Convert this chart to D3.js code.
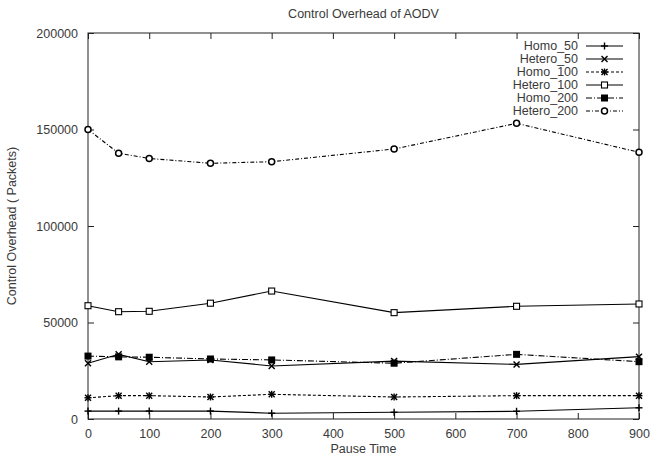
<!DOCTYPE html>
<html>
<head>
<meta charset="utf-8">
<script src="https://cdn.jsdelivr.net/npm/d3@7"></script>
<style>
  body { margin: 0; background: #fff; }
  text { font-family: "Liberation Sans", Arial, sans-serif; fill: #3a3a3a; }
</style>
</head>
<body>
<script>
'use strict';

var width = 650;
var height = 457;

// data
var pauseTimes = [0, 50, 100, 200, 300, 500, 700, 900];
var homo50 = [4100, 4100, 4100, 4100, 3000, 3500, 4000, 5800];
var hetero50 = [28900, 33500, 29700, 30600, 27500, 30000, 28300, 32300];
var homo100 = [11000, 12100, 12100, 11400, 12800, 11400, 12100, 12100];
var hetero100 = [58700, 55600, 55800, 60000, 66300, 55100, 58400, 59600];
var homo200 = [32600, 32200, 32000, 31100, 30600, 28900, 33500, 29700];
var hetero200 = [150000, 137700, 135000, 132500, 133300, 139900, 153200, 138200];
var xTicks = [0, 100, 200, 300, 400, 500, 600, 700, 800, 900];
var yTicks = [0, 50000, 100000, 150000, 200000];

var series = [
  { name: 'Homo_50', values: homo50, dash: null, marker: 'plus' },
  { name: 'Hetero_50', values: hetero50, dash: null, marker: 'cross' },
  { name: 'Homo_100', values: homo100, dash: '3,2', marker: 'star' },
  { name: 'Hetero_100', values: hetero100, dash: null, marker: 'square' },
  { name: 'Homo_200', values: homo200, dash: '6,2,1,2', marker: 'fsquare' },
  { name: 'Hetero_200', values: hetero200, dash: '4,2,1,2', marker: 'circle' }
];

var margin = { top: 33, right: 11, bottom: 38, left: 88 };
var w = width - margin.left - margin.right;
var h = height - margin.top - margin.bottom;
var fs = '12.5px';

var svg = d3.select('body').append('svg').attr('width', width).attr('height', height);

var x = d3.scaleLinear().domain([0, 900]).range([0, w]);
var y = d3.scaleLinear().domain([0, 200000]).range([h, 0]);

var g = svg.append('g').attr('transform', 'translate(' + margin.left + ',' + margin.top + ')');

// title and axis labels
svg.append('text').attr('x', margin.left + w / 2).attr('y', 18).attr('text-anchor', 'middle')
  .style('font-size', fs).text('Control Overhead of AODV');
svg.append('text').attr('x', margin.left + w / 2).attr('y', 453).attr('text-anchor', 'middle')
  .style('font-size', fs).text('Pause Time');
svg.append('text').attr('transform', 'translate(16,' + (margin.top + h / 2) + ') rotate(-90)')
  .attr('text-anchor', 'middle').style('font-size', fs).text('Control Overhead ( Packets)');

// gnuplot style inward ticks on all four sides
function styleAxis(sel) {
  sel.select('.domain').remove();
  sel.selectAll('line').attr('stroke', '#222');
  sel.selectAll('text').style('font-size', fs).attr('fill', '#3a3a3a');
}

g.append('g').attr('transform', 'translate(0,' + h + ')')
  .call(d3.axisBottom(x).tickValues(xTicks).tickSize(-6).tickPadding(10).tickFormat(d3.format('d')))
  .call(styleAxis);
g.append('g')
  .call(d3.axisTop(x).tickValues(xTicks).tickSize(-6).tickFormat(''))
  .call(styleAxis);
g.append('g')
  .call(d3.axisLeft(y).tickValues(yTicks).tickSize(-6).tickPadding(10).tickFormat(d3.format('d')))
  .call(styleAxis);
g.append('g').attr('transform', 'translate(' + w + ',0)')
  .call(d3.axisRight(y).tickValues(yTicks).tickSize(-6).tickFormat(''))
  .call(styleAxis);

g.append('rect').attr('width', w).attr('height', h)
  .attr('fill', 'none').attr('stroke', '#222').attr('stroke-width', 1);

function drawMarker(sel, type, cx, cy) {
  var s = 3;
  var m = sel.append('g').attr('transform', 'translate(' + cx + ',' + cy + ')');
  function ln(x1, y1, x2, y2) {
    m.append('line').attr('x1', x1).attr('y1', y1).attr('x2', x2).attr('y2', y2)
      .attr('stroke', '#000').attr('stroke-width', 1.4);
  }
  if (type === 'plus' || type === 'star') { ln(-s - 0.5, 0, s + 0.5, 0); ln(0, -s - 0.5, 0, s + 0.5); }
  if (type === 'cross' || type === 'star') { ln(-s, -s, s, s); ln(-s, s, s, -s); }
  if (type === 'square') {
    m.append('rect').attr('x', -s).attr('y', -s).attr('width', 2 * s).attr('height', 2 * s)
      .attr('fill', '#fff').attr('stroke', '#000').attr('stroke-width', 1.1);
  }
  if (type === 'fsquare') {
    m.append('rect').attr('x', -s - 0.5).attr('y', -s - 0.5).attr('width', 2 * s + 1).attr('height', 2 * s + 1)
      .attr('fill', '#000');
  }
  if (type === 'circle') {
    m.append('circle').attr('r', s).attr('fill', '#fff').attr('stroke', '#000').attr('stroke-width', 1.5);
  }
}

var line = d3.line()
  .x(function (d, i) { return x(pauseTimes[i]); })
  .y(function (d) { return y(d); });

series.forEach(function (s) {
  g.append('path').datum(s.values).attr('d', line)
    .attr('fill', 'none').attr('stroke', '#000').attr('stroke-width', 1.1)
    .attr('stroke-dasharray', s.dash);
  s.values.forEach(function (v, i) {
    drawMarker(g, s.marker, x(pauseTimes[i]), y(v));
  });
});

// legend
var legend = svg.append('g');
series.forEach(function (s, i) {
  var ly = 46 + i * 13;
  legend.append('text').attr('x', 578).attr('y', ly + 4).attr('text-anchor', 'end')
    .style('font-size', fs).text(s.name);
  legend.append('line').attr('x1', 586).attr('x2', 623).attr('y1', ly).attr('y2', ly)
    .attr('stroke', '#000').attr('stroke-width', 1.1).attr('stroke-dasharray', s.dash);
  drawMarker(legend, s.marker, 604.5, ly);
});
</script>
</body>
</html>
